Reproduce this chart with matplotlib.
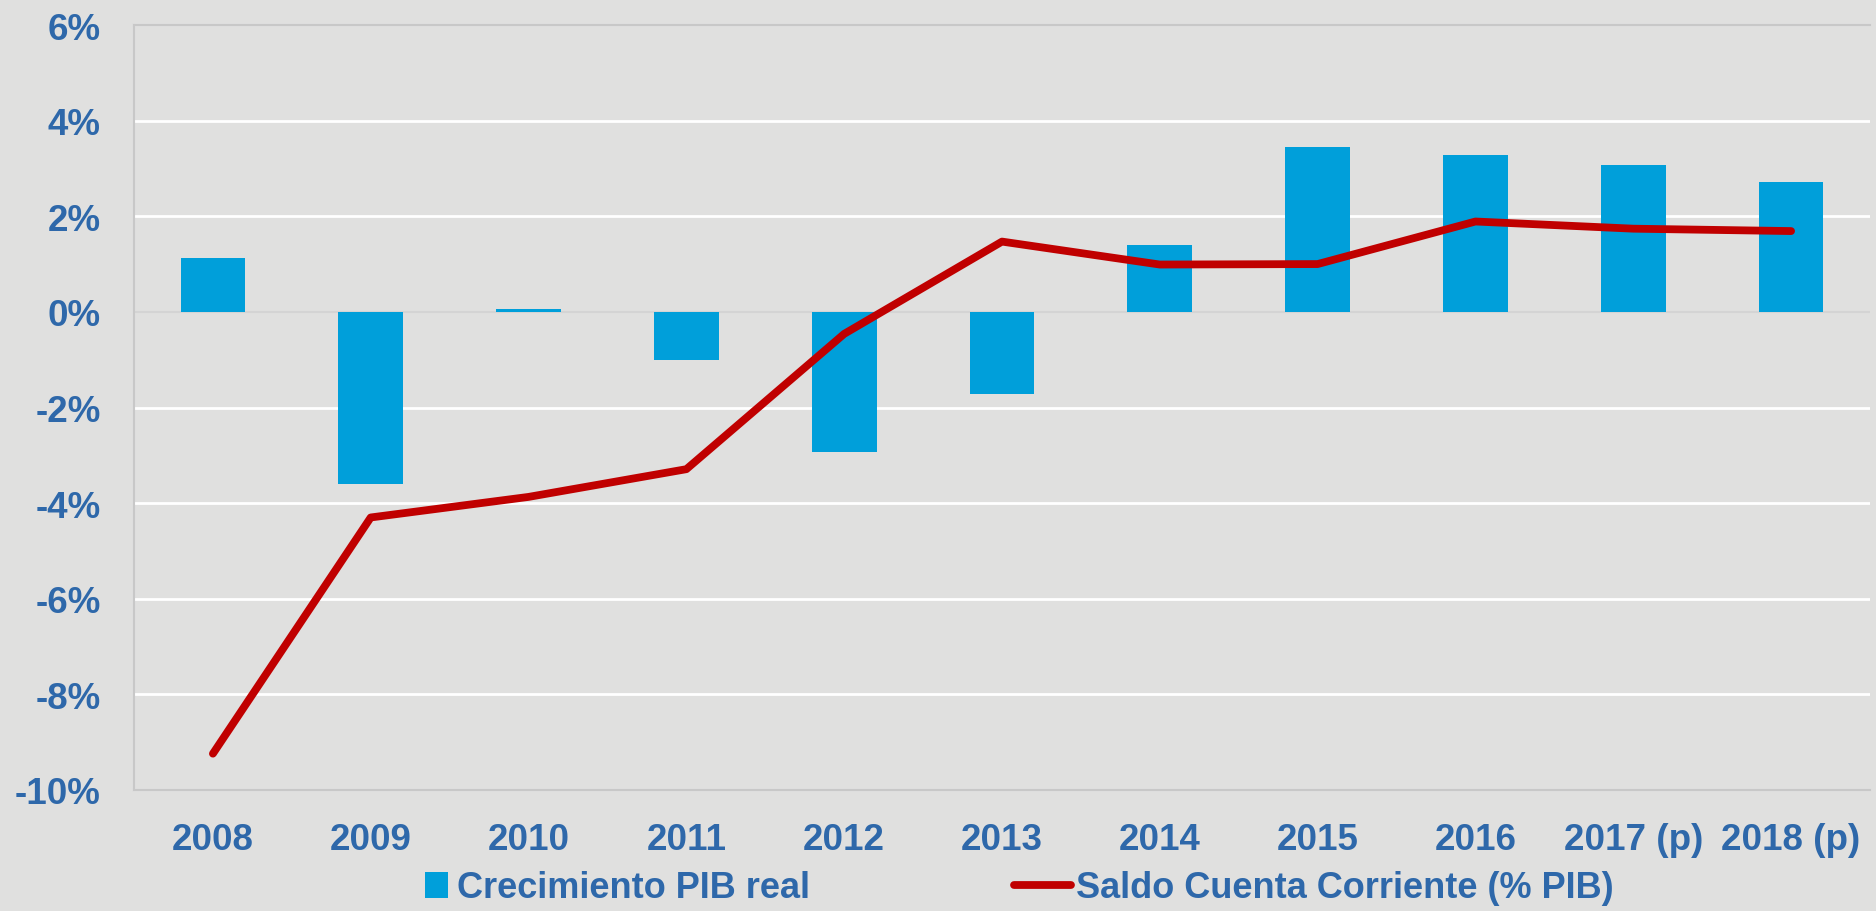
import numpy as np
import matplotlib
matplotlib.use("Agg")
import matplotlib.pyplot as plt
from matplotlib.ticker import FuncFormatter

# ---------------- Datos ----------------
years = ["2008", "2009", "2010", "2011", "2012", "2013", "2014", "2015",
         "2016", "2017 (p)", "2018 (p)"]
pib_real = [1.13, -3.59, 0.05, -1.00, -2.94, -1.71, 1.40, 3.45, 3.29, 3.07, 2.72]
saldo_cc = [-9.24, -4.30, -3.87, -3.29, -0.46, 1.47, 0.99, 1.00, 1.89, 1.74, 1.69]
yticks = [-10, -8, -6, -4, -2, 0, 2, 4, 6]

# ---------------- Estilo ----------------
bg = "#E0E0DF"
txt = "#2E68AA"
azul = "#009FDA"
rojo = "#C00000"
plt.rcParams["font.family"] = ["Liberation Sans", "DejaVu Sans"]
plt.rcParams["font.weight"] = "bold"

W, H = 1876, 912
fig = plt.figure(figsize=(W / 100, H / 100), dpi=100, facecolor=bg)
ax = fig.add_axes([134 / W, 1 - 791 / H, (1870 - 134) / W, (791 - 26) / H])
ax.set_facecolor(bg)

x = np.arange(len(years))
ax.bar(x, pib_real, width=0.41, color=azul, zorder=3, label="Crecimiento PIB real")
ax.plot(x, saldo_cc, color=rojo, lw=5.6, solid_capstyle="round",
        solid_joinstyle="round", zorder=4, label="Saldo Cuenta Corriente (% PIB)")

ax.set_xlim(-0.5, len(years) - 0.5)
ax.set_ylim(-10, 6)
ax.set_yticks(yticks)
ax.yaxis.set_major_formatter(FuncFormatter(lambda v, p: f"{v:.0f}%"))
ax.set_xticks(x)
ax.set_xticklabels(years)

# rejilla blanca
for v in yticks[1:-1]:
    if v != 0:
        ax.axhline(v, color="white", lw=2, zorder=1)
ax.axhline(0, color="#D4D4D4", lw=1.5, zorder=2)

for s in ["top", "left", "bottom"]:
    ax.spines[s].set_color("#C8C8C8")
    ax.spines[s].set_linewidth(1.5)
ax.spines["right"].set_visible(False)

ax.tick_params(axis="both", length=0, colors=txt, labelsize=26.5)
ax.tick_params(axis="y", pad=24)
ax.tick_params(axis="x", pad=23)
for lab in ax.get_xticklabels() + ax.get_yticklabels():
    lab.set_fontweight("bold")

# ---------------- Leyenda ----------------
h, l = ax.get_legend_handles_labels()
leg1 = fig.legend([h[1]], [l[1]], loc="center left",
                  bbox_to_anchor=(425 / W, 1 - 889 / H), frameon=False,
                  fontsize=26, handlelength=0.63, handleheight=0.72,
                  handletextpad=0.25, borderpad=0, borderaxespad=0)
leg2 = fig.legend([h[0]], [l[0]], loc="center left",
                  bbox_to_anchor=(1014 / W, 1 - 889 / H), frameon=False,
                  fontsize=26, handlelength=1.58,
                  handletextpad=0.15, borderpad=0, borderaxespad=0)
for lg in (leg1, leg2):
    for t in lg.get_texts():
        t.set_color(txt)
        t.set_fontweight("bold")

fig.savefig("out.png", dpi=100, facecolor=bg)
